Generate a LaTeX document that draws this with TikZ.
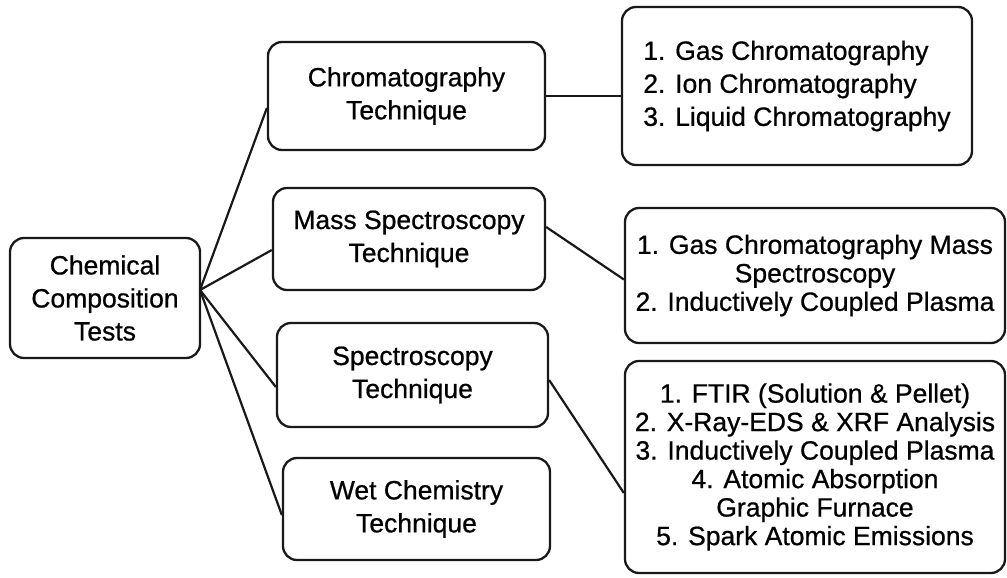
\documentclass[tikz,border=0pt]{standalone}
\usepackage{fontspec}
\setmainfont{Liberation Sans}[BoldFont={Liberation Sans}, BoldFeatures={FakeBold=0.7}]
\begin{document}
\begin{tikzpicture}[x=1pt,y=-1pt,
  box/.style={draw=black!90, line width=2.3pt, rounded corners=14pt, inner sep=0pt, align=center,
    font=\fontsize{26.5}{33}\selectfont\bfseries},
  tight/.style={font=\fontsize{26.5}{28.5}\selectfont\bfseries},
  link/.style={draw=black!90, line width=2.2pt}]
\useasboundingbox (0,0) rectangle (1007,578);
\node[box, minimum width=190pt, minimum height=120pt] (root) at (105,298) {Chemical\\Composition\\Tests};
\node[box, minimum width=277pt, minimum height=108pt] (chrom) at (406.5,96) {Chromatography\\Technique};
\node[box, minimum width=272pt, minimum height=102pt] (mass) at (409,239) {Mass Spectroscopy\\Technique};
\node[box, minimum width=271pt, minimum height=104pt] (spec) at (412.5,375) {Spectroscopy\\Technique};
\node[box, minimum width=267pt, minimum height=102pt] (wet) at (416.5,509) {Wet Chemistry\\Technique};
\node[box, align=left, minimum width=350pt, minimum height=158pt] (l1) at (797,86)
  {1. Gas Chromatography\\2. Ion Chromatography\\3. Liquid Chromatography};
\node[box, tight, minimum width=380pt, minimum height=135pt] (l2) at (815,275.5)
  {1. Gas Chromatography Mass\\Spectroscopy\\2. Inductively Coupled Plasma};
\node[box, tight, minimum width=380pt, minimum height=212pt] (l3) at (815,467)
  {1. FTIR (Solution \& Pellet)\\2. X-Ray-EDS \& XRF Analysis\\3. Inductively Coupled Plasma\\4. Atomic Absorption\\Graphic Furnace\\5. Spark Atomic Emissions};
\coordinate (r) at (200,290);
\draw[link] (r) -- ([yshift=-12pt]chrom.west);
\draw[link] (r) -- ([yshift=-11pt]mass.west);
\draw[link] (r) -- ([yshift=-12pt]spec.west);
\draw[link] (r) -- ([yshift=-6pt]wet.west);
\draw[link] (chrom.east) -- (chrom.east -| l1.west);
\draw[link] ([yshift=12pt]mass.east) -- ([yshift=-4pt]l2.west);
\draw[link] ([yshift=-5pt]spec.east) -- ([yshift=-26pt]l3.west);
\end{tikzpicture}
\end{document}
